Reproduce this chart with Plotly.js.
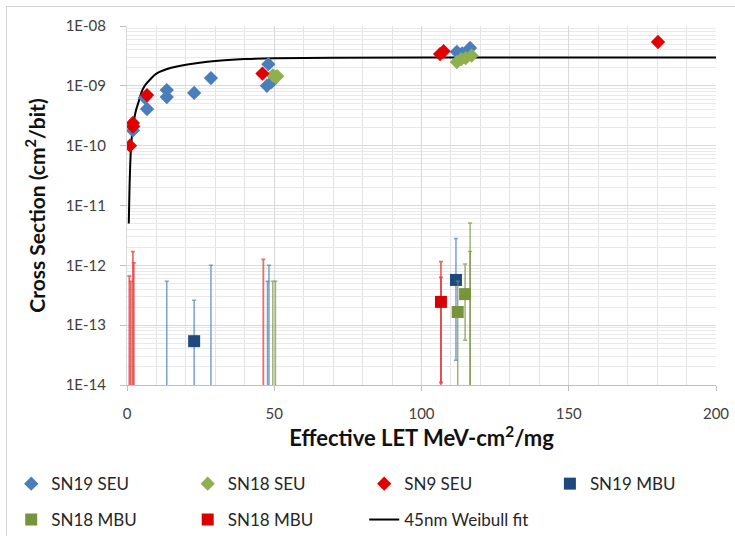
<!DOCTYPE html>
<html>
<head>
<meta charset="utf-8">
<script src="https://cdn.plot.ly/plotly-3.0.1.min.js"></script>
<style>
html,body{margin:0;padding:0;background:#fff;}
#wrap{position:relative;width:735px;height:536px;overflow:hidden;}
#chart{width:735px;height:536px;}
#frame{position:absolute;left:6px;top:6px;width:760px;height:560px;border:1.5px solid #d4d4d4;pointer-events:none;}
</style>
</head>
<body>
<div id="wrap"><div id="chart"></div><div id="frame"></div></div>
<script>
// ---- data ----
var sn19SeuX = [2.0, 2.2, 6.1, 6.8, 13.5, 13.5, 22.8, 28.5, 48.0, 47.5, 49.0, 112.0, 113.8, 116.5];
var sn19SeuY = [1.8e-10, 2.1e-10, 6.3e-10, 4.1e-10, 8.5e-10, 6.5e-10, 7.6e-10, 1.35e-9, 2.3e-9, 1.0e-9, 1.15e-9, 3.7e-9, 3.5e-9, 4.3e-9];

var sn18SeuX = [49.5, 50.5, 51.0, 112.0, 113.5, 115.0, 117.0];
var sn18SeuY = [1.5e-9, 1.4e-9, 1.45e-9, 2.5e-9, 2.8e-9, 2.9e-9, 3.2e-9];

var sn9SeuX = [1.0, 2.0, 2.0, 6.8, 46.0, 106.3, 107.5, 180.3];
var sn9SeuY = [1.0e-10, 2.4e-10, 2.1e-10, 7.0e-10, 1.6e-9, 3.4e-9, 3.8e-9, 5.4e-9];

// MBU series: value, upper and lower error bounds (1e-15 = below the axis)
var sn19MbuX  = [13.5, 22.8, 28.5, 47.7, 48.2, 111.7];
var sn19MbuY  = [1e-15, 5.4e-14, 1e-15, 1e-15, 1e-15, 5.7e-13];
var sn19MbuHi = [5.4e-13, 2.6e-13, 1.0e-12, 5.4e-13, 1.0e-12, 2.8e-12];
var sn19MbuLo = [1e-15, 1e-15, 1e-15, 1e-15, 1e-15, 2.6e-14];

var sn18MbuX  = [49.5, 50.4, 112.3, 114.8, 116.5, 116.5];
var sn18MbuY  = [1e-15, 1e-15, 1.66e-13, 3.3e-13, 1e-15, 1e-15];
var sn18MbuHi = [5.4e-13, 5.4e-13, 5.4e-13, 1.05e-12, 5.1e-12, 1.7e-12];
var sn18MbuLo = [1e-15, 1e-15, 1e-15, 5.6e-14, 1e-15, 1e-15];

var sn18MbuRX  = [0.8, 1.3, 2.0, 2.3, 46.3, 106.6, 106.6];
var sn18MbuRY  = [1e-15, 1e-15, 1e-15, 1e-15, 1e-15, 2.45e-13, 1e-15];
var sn18MbuRHi = [6.6e-13, 5.4e-13, 1.7e-12, 1.1e-12, 1.26e-12, 6.3e-13, 1.15e-12];
var sn18MbuRLo = [1e-15, 1e-15, 1e-15, 1e-15, 1e-15, 1.1e-14, 1e-15];

var fitX = [0.6, 0.8, 1.0, 1.4, 2, 3, 4, 5, 6, 8, 10, 15, 20, 30, 40, 50, 70, 100, 150, 200];
var fitY = [5e-12, 1.5e-11, 3.5e-11, 1e-10, 2e-10, 3.8e-10, 5.5e-10, 8e-10, 1e-9, 1.3e-9, 1.6e-9, 2e-9, 2.25e-9, 2.6e-9, 2.8e-9, 2.9e-9, 2.95e-9, 2.97e-9, 2.98e-9, 2.98e-9];

var yTickVals = [1e-14, 1e-13, 1e-12, 1e-11, 1e-10, 1e-9, 1e-8];
var yTickText = ['1E-14', '1E-13', '1E-12', '1E-11', '1E-10', '1E-09', '1E-08'];
var xTickVals = [0, 50, 100, 150, 200];

// ---- helpers ----
function plus(y, hi) { return hi.map(function (h, i) { return h - y[i]; }); }
function minus(y, lo) { return lo.map(function (l, i) { return y[i] - l; }); }

var minorY = [];
for (var e = -14; e < -8; e++) {
  for (var m = 2; m <= 9; m++) minorY.push(m * Math.pow(10, e));
}

var FONT = 'Lato, "Open Sans", sans-serif';

var traces = [
  {
    x: fitX, y: fitY, type: 'scatter', mode: 'lines', name: '45nm Weibull fit',
    line: { color: '#000000', width: 2, shape: 'spline' }, legend: 'legend2', legendrank: 3
  },
  {
    x: sn19MbuX, y: sn19MbuY, type: 'scatter', mode: 'markers', name: 'SN19 MBU',
    marker: { symbol: 'square', size: 12, color: '#1F497D' },
    error_y: { type: 'data', symmetric: false, array: plus(sn19MbuY, sn19MbuHi), arrayminus: minus(sn19MbuY, sn19MbuLo),
      color: 'rgba(79,129,189,0.75)', thickness: 1.5, width: 2 },
    legend: 'legend3', legendrank: 4
  },
  {
    x: sn18MbuX, y: sn18MbuY, type: 'scatter', mode: 'markers', name: 'SN18 MBU',
    marker: { symbol: 'square', size: 12, color: '#77933C' },
    error_y: { type: 'data', symmetric: false, array: plus(sn18MbuY, sn18MbuHi), arrayminus: minus(sn18MbuY, sn18MbuLo),
      color: 'rgba(119,147,60,0.7)', thickness: 1.5, width: 2 },
    legend: 'legend2', legendrank: 1
  },
  {
    x: sn18MbuRX, y: sn18MbuRY, type: 'scatter', mode: 'markers', name: 'SN18 MBU',
    marker: { symbol: 'square', size: 12, color: '#D80000' },
    error_y: { type: 'data', symmetric: false, array: plus(sn18MbuRY, sn18MbuRHi), arrayminus: minus(sn18MbuRY, sn18MbuRLo),
      color: 'rgba(225,60,60,0.75)', thickness: 1.8, width: 2 },
    legend: 'legend2', legendrank: 2
  },
  {
    x: sn19SeuX, y: sn19SeuY, type: 'scatter', mode: 'markers', name: 'SN19 SEU',
    marker: { symbol: 'diamond', size: 11, color: '#4A7EBB' }, legend: 'legend', legendrank: 1
  },
  {
    x: sn18SeuX, y: sn18SeuY, type: 'scatter', mode: 'markers', name: 'SN18 SEU',
    marker: { symbol: 'diamond', size: 11, color: '#8FB04E' }, legend: 'legend', legendrank: 2
  },
  {
    x: sn9SeuX, y: sn9SeuY, type: 'scatter', mode: 'markers', name: 'SN9 SEU',
    marker: { symbol: 'diamond', size: 11, color: '#E00000' }, legend: 'legend', legendrank: 3
  }
];

var legendCommon = {
  orientation: 'h', xanchor: 'left', yanchor: 'middle',
  font: { family: FONT, size: 17, color: '#262626' },
  entrywidth: 131.5, entrywidthmode: 'pixels', bgcolor: 'rgba(0,0,0,0)', itemclick: false,
  traceorder: 'normal'
};

var layout = {
  width: 735, height: 536,
  margin: { l: 127, r: 19, t: 26, b: 151, autoexpand: false },
  paper_bgcolor: '#ffffff', plot_bgcolor: '#ffffff',
  font: { family: FONT, color: '#404040' },
  showlegend: true,
  xaxis: {
    range: [0, 200], tickvals: xTickVals, ticktext: xTickVals.map(String),
    showgrid: true, gridcolor: '#d9d9d9', gridwidth: 1,
    minor: { dtick: 10, showgrid: true, gridcolor: '#e3e3e3', gridwidth: 1 },
    zeroline: false, showline: true, linecolor: '#bfbfbf', linewidth: 1,
    ticks: 'outside', ticklen: 5, tickcolor: '#bfbfbf', ticklabelstandoff: 10,
    tickfont: { family: FONT, size: 15, color: '#404040' },
    title: { text: '<b>Effective LET MeV-cm<sup>2</sup>/mg</b>', font: { family: FONT, size: 22, color: '#111111' }, standoff: 8 }
  },
  yaxis: {
    type: 'log', range: [-14, -8], tickvals: yTickVals, ticktext: yTickText,
    showgrid: true, gridcolor: '#d9d9d9', gridwidth: 1,
    minor: { tickmode: 'array', tickvals: minorY, showgrid: true, gridcolor: '#e9e9e9', gridwidth: 1, ticks: '' },
    zeroline: false, showline: true, linecolor: '#d9d9d9', linewidth: 1,
    ticks: 'outside', ticklen: 6, tickcolor: '#bfbfbf', ticklabelstandoff: 11,
    tickfont: { family: FONT, size: 15, color: '#404040' },
    title: { text: '<b>Cross Section (cm<sup>2</sup>/bit)</b>', font: { family: FONT, size: 21, color: '#111111' }, standoff: 14 }
  },
  legend: Object.assign({}, legendCommon, { x: -0.1966, y: -0.276 }),
  legend3: Object.assign({}, legendCommon, { x: 0.718, y: -0.276 }),
  legend2: Object.assign({}, legendCommon, { x: -0.1966, y: -0.376 })
};

Plotly.newPlot('chart', traces, layout, { displayModeBar: false, staticPlot: true });
</script>
</body>
</html>
